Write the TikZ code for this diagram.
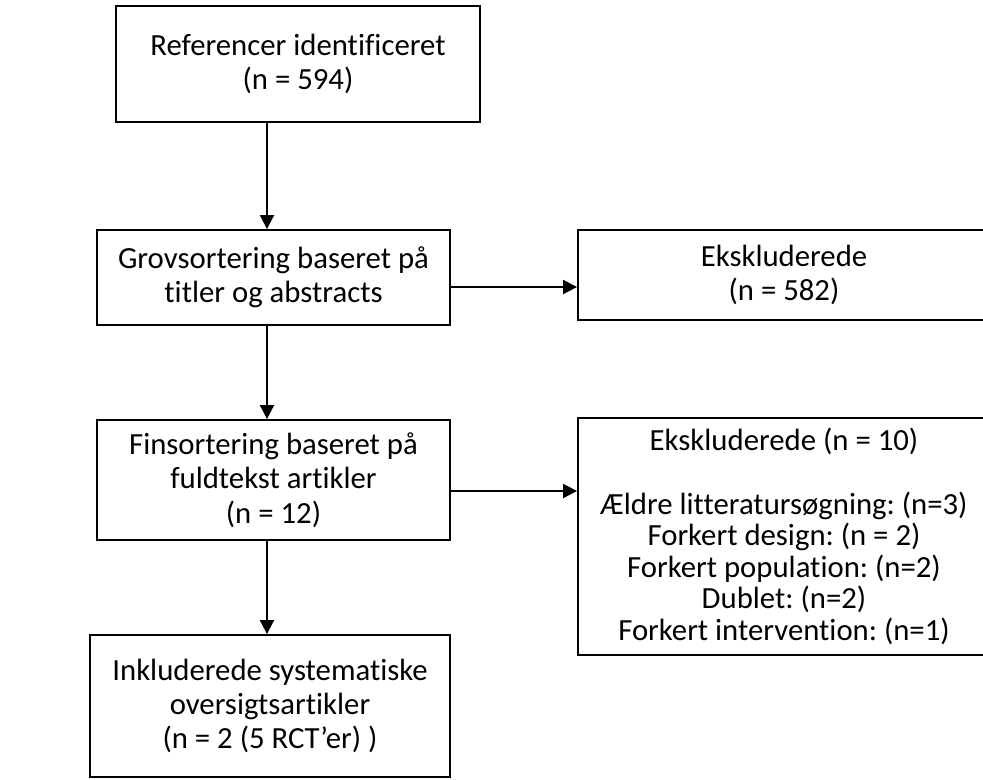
\documentclass[tikz,border=0pt]{standalone}
\usepackage{fontspec}
\setmainfont{Carlito}[Ligatures={NoCommon}]
\frenchspacing
\usetikzlibrary{arrows.meta}
\begin{document}
\begin{tikzpicture}[x=0.02cm,y=-0.02cm]
\tikzset{boite/.style={draw, line width=1.1pt, align=center, inner sep=0pt, font=\fontsize{17.5}{19.5}\selectfont}}
\tikzset{fleche/.style={line width=1.1pt, -{Triangle[length=2.8mm,width=2.8mm]}}}
\useasboundingbox (0,0) rectangle (983,779);
\node[boite, minimum width=7.28cm, minimum height=2.32cm] (B1) at (298,64) {Referencer identificeret\\(n = 594)};
\node[boite, minimum width=7.06cm, minimum height=1.9cm] (B2) at (273.5,277.5) {Grovsortering baseret på\\titler og abstracts};
\node[boite, minimum width=8.24cm, minimum height=1.8cm] (B3) at (784,275) {Ekskluderede\\(n = 582)};
\node[boite, minimum width=7.06cm, minimum height=2.4cm] (B4) at (273.5,480) {Finsortering baseret på\\fuldtekst artikler\\(n = 12)};
\node[boite, minimum width=8.24cm, minimum height=4.74cm, font=\fontsize{17.5}{18}\selectfont] (B5) at (784,536.5) {Ekskluderede (n = 10)\\[18pt]Ældre litteratursøgning: (n=3)\\Forkert design: (n = 2)\\Forkert population: (n=2)\\Dublet: (n=2)\\Forkert intervention: (n=1)};
\node[boite, minimum width=7.2cm, minimum height=2.84cm] (B6) at (270,706) {Inkluderede systematiske\\oversigtsartikler\\(n = 2 (5 RCT’er) )};
\coordinate (K) at (267,0);
\draw[fleche] (B1.south -| K) -- (B2.north -| K);
\draw[fleche] (B2.south -| K) -- (B4.north -| K);
\draw[fleche] (B4.south -| K) -- (B6.north -| K);
\draw[fleche] ([yshift=-0.19cm]B2.east) -- ([yshift=-0.19cm]B2.east -| B3.west);
\draw[fleche] ([yshift=-0.22cm]B4.east) -- ([yshift=-0.22cm]B4.east -| B5.west);
\end{tikzpicture}
\end{document}
